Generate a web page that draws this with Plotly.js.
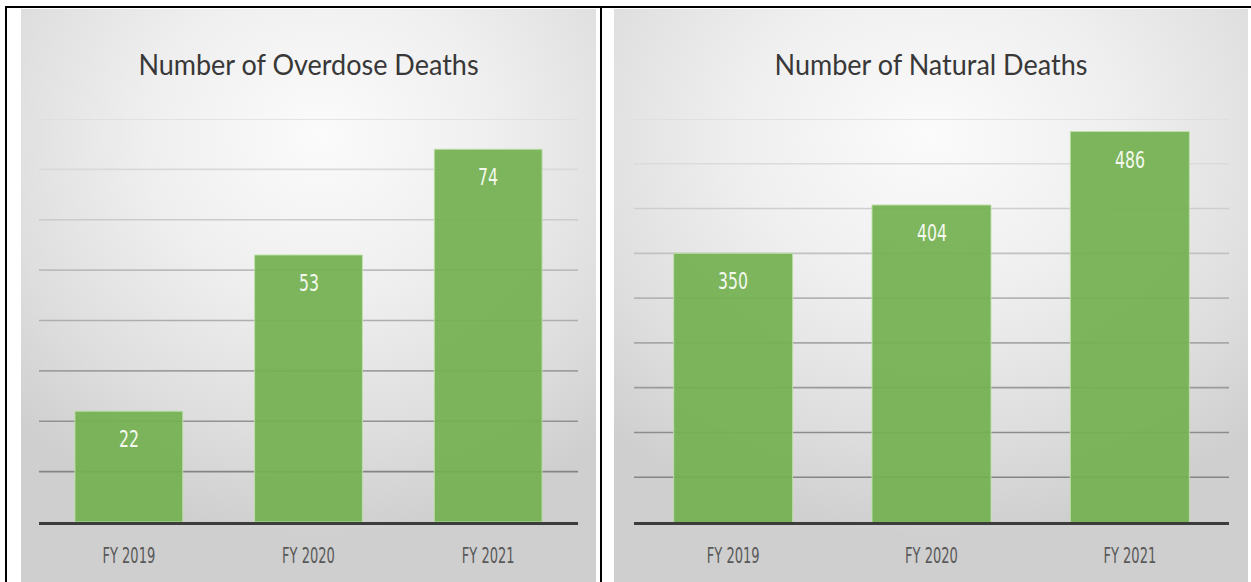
<!DOCTYPE html>
<html>
<head>
<meta charset="utf-8">
<script src="https://cdn.plot.ly/plotly-3.0.1.min.js"></script>
<style>
  html, body { margin: 0; padding: 0; background: #ffffff; width: 1251px; height: 582px; overflow: hidden; }
  .frame { position: absolute; background: #000; }
  .panel { position: absolute; top: 9px; height: 573px; }
  #bgL { left: 21px; width: 575px;
    background: radial-gradient(ellipse 75% 70% at 52% 22%, #fbfbfb 0%, #efefef 40%, #dedede 75%, #cfcfcf 100%); }
  #bgR { left: 614px; width: 634px;
    background: radial-gradient(ellipse 75% 70% at 50% 22%, #fbfbfb 0%, #efefef 40%, #dedede 75%, #cfcfcf 100%); }
  .plot { position: absolute; top: 0; left: 0; }
</style>
</head>
<body>
<div class="frame" style="left:5px; top:6px; width:1246px; height:2px;"></div>
<div class="frame" style="left:5px; top:6px; width:2px; height:576px;"></div>
<div class="frame" style="left:600px; top:6px; width:2px; height:576px;"></div>
<div class="panel" id="bgL"><div class="plot" id="chartL"></div></div>
<div class="panel" id="bgR"><div class="plot" id="chartR"></div></div>
<script>
// ---- data ----
const categories = ['FY 2019', 'FY 2020', 'FY 2021'];
const overdoseDeaths = [22, 53, 74];
const naturalDeaths = [350, 404, 486];
const overdoseGrid = [10, 20, 30, 40, 50, 60, 70, 80];
const naturalGrid = [100, 150, 200, 250, 300, 350, 400, 450, 500];
const overdoseTitle = 'Number of Overdose Deaths';
const naturalTitle = 'Number of Natural Deaths';

const narrow = '"Liberation Sans Narrow", "DejaVu Sans Condensed", "Arial Narrow", sans-serif';

function hexLerp(a, b, t) {
  const pa = [1,3,5].map(i => parseInt(a.substr(i,2),16));
  const pb = [1,3,5].map(i => parseInt(b.substr(i,2),16));
  const c = pa.map((v, i) => Math.round(v + (pb[i]-v)*t));
  return 'rgb(' + c.join(',') + ')';
}

function buildChart(divId, title, values, grid, yRange, width) {
  const span = yRange[1] - yRange[0];
  const shapes = grid.map(v => {
    const f = (v - yRange[0]) / span; // 0 bottom -> 1 top
    const t = Math.min(1, Math.max(0, (f - 0.15) / 0.75));
    return {
      type: 'line', xref: 'paper', yref: 'y', x0: 0, x1: 1, y0: v, y1: v,
      layer: 'below', line: { color: hexLerp('#858585', '#dcdcdc', t), width: 1.6 }
    };
  });
  const annotations = values.map((v, i) => ({
    x: categories[i], y: v, xref: 'x', yref: 'y',
    text: String(v), showarrow: false, yanchor: 'top', xanchor: 'center', yshift: -16,
    font: { family: narrow, size: 17.5, color: '#f4f9ee' }
  }));
  const trace = {
    type: 'bar', x: categories, y: values,
    marker: { color: 'rgba(116,176,82,0.93)', line: { color: 'rgba(190,225,170,0.9)', width: 1 } },
    hoverinfo: 'none'
  };
  const layout = {
    width: width, height: 573,
    margin: { l: divId === 'chartL' ? 18 : 20, r: divId === 'chartL' ? 18 : 19, t: 110, b: 60, pad: 0 },
    paper_bgcolor: 'rgba(0,0,0,0)', plot_bgcolor: 'rgba(0,0,0,0)',
    bargap: 0.4, showlegend: false,
    title: { text: title, font: { family: 'Lato, "Open Sans", sans-serif', size: 27, color: '#383838' },
             x: 0.5, xref: 'container', xanchor: 'center', y: 0.9023, yref: 'container', yanchor: 'middle' },
    xaxis: { type: 'category', showline: true, linecolor: '#3c3c3c', linewidth: 3, ticks: '',
             showgrid: false, zeroline: false, ticklabelstandoff: 18,
             tickfont: { family: narrow, size: 14.5, color: '#595959' } },
    yaxis: { range: yRange, showgrid: false, zeroline: false, showticklabels: false, ticks: '', showline: false },
    shapes: shapes, annotations: annotations
  };
  return Plotly.newPlot(divId, [trace], layout, { displayModeBar: false, staticPlot: true });
}

function squash(gd, selector, sy) {
  gd.querySelectorAll(selector).forEach(t => {
    const g = document.createElementNS('http://www.w3.org/2000/svg', 'g');
    t.parentNode.insertBefore(g, t);
    g.appendChild(t);
    g.style.transformBox = 'fill-box';
    g.style.transformOrigin = 'center';
    g.style.transform = 'scaleY(' + sy + ')';
  });
}

function finish(gd) {
  squash(gd, '.xtick text', 1.47);
  squash(gd, '.annotation-text', 1.35);
  squash(gd, '.gtitle', 1.1);
}

buildChart('chartL', overdoseTitle, overdoseDeaths, overdoseGrid, [0, 80], 575).then(finish);
buildChart('chartR', naturalTitle, naturalDeaths, naturalGrid, [50, 500], 634).then(finish);
</script>
</body>
</html>
